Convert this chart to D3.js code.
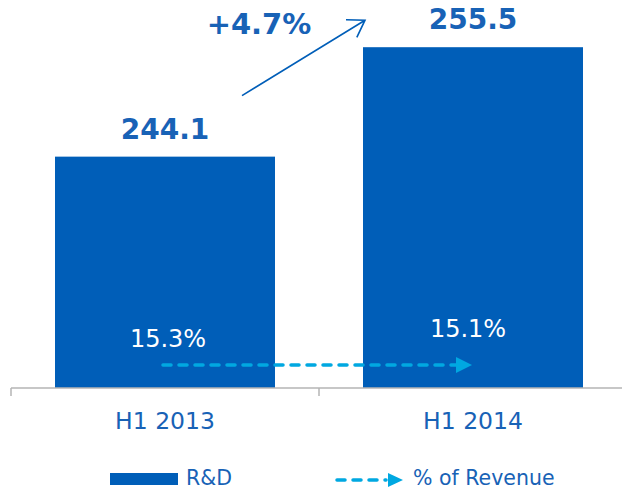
<!DOCTYPE html>
<html>
<head>
<meta charset="utf-8">
<script src="https://cdn.jsdelivr.net/npm/d3@7"></script>
<style>
  body { margin: 0; background: #fff; }
  text { font-family: "DejaVu Sans", Verdana, sans-serif; }
</style>
</head>
<body>
<svg id="chart" width="622" height="490"></svg>
<script>
'use strict';

const periods = ['H1 2013', 'H1 2014'];
const rdValues = [244.1, 255.5];
const revenueShare = ['15.3%', '15.1%'];
const growthLabel = '+4.7%';
const legendLabels = ['R&D', '% of Revenue'];

const BAR = '#005eb8';
const TEXT = '#1862b6';
const LIGHT = '#00a8e1';
const AXIS = '#b4b4b4';

const svg = d3.select('#chart');

const x = d3.scaleBand()
  .domain(periods)
  .range([11, 627])
  .paddingInner(2 / 7)
  .paddingOuter(1 / 7);

const y = d3.scaleLinear()
  .domain([220, 260])
  .range([388, 4]);

const base = y(220);
const bw = x.bandwidth();
const cx = p => x(p) + bw / 2;

// bars
svg.append('g')
  .selectAll('rect')
  .data(periods)
  .join('rect')
  .attr('x', d => x(d))
  .attr('y', (d, i) => y(rdValues[i]))
  .attr('width', bw)
  .attr('height', (d, i) => base - y(rdValues[i]))
  .attr('fill', BAR);

// value labels
svg.append('g')
  .selectAll('text')
  .data(periods)
  .join('text')
  .attr('x', d => cx(d))
  .attr('y', (d, i) => y(rdValues[i]) - 18)
  .attr('text-anchor', 'middle')
  .attr('font-size', 28)
  .attr('font-weight', 'bold')
  .attr('fill', TEXT)
  .text((d, i) => rdValues[i].toFixed(1));

// % of revenue labels inside bars
const shareOffsets = [[3, -41], [-5, -51]];
svg.append('g')
  .selectAll('text')
  .data(periods)
  .join('text')
  .attr('x', (d, i) => cx(d) + shareOffsets[i][0])
  .attr('y', (d, i) => base + shareOffsets[i][1])
  .attr('text-anchor', 'middle')
  .attr('font-size', 24)
  .attr('fill', '#fff')
  .text((d, i) => revenueShare[i]);

// axis
const step = x.step();
const axis = svg.append('g');
axis.append('line')
  .attr('x1', x.range()[0]).attr('x2', 622)
  .attr('y1', base).attr('y2', base)
  .attr('stroke', AXIS).attr('stroke-width', 1.5);
axis.selectAll('line.tick')
  .data(d3.range(periods.length + 1))
  .join('line')
  .attr('class', 'tick')
  .attr('x1', i => x.range()[0] + i * step)
  .attr('x2', i => x.range()[0] + i * step)
  .attr('y1', base).attr('y2', base + 8)
  .attr('stroke', AXIS).attr('stroke-width', 1.5);
axis.selectAll('text')
  .data(periods)
  .join('text')
  .attr('x', d => cx(d))
  .attr('y', base + 41)
  .attr('text-anchor', 'middle')
  .attr('font-size', 23.5)
  .attr('fill', TEXT)
  .text(d => d);

// dashed trend arrow
const ax0 = cx(periods[0]) - 2;
const ax1 = cx(periods[1]) - 1;
const ay = base - 23;
svg.append('line')
  .attr('x1', ax0).attr('x2', ax1 - 15)
  .attr('y1', ay).attr('y2', ay)
  .attr('stroke', LIGHT)
  .attr('stroke-width', 3.5)
  .attr('stroke-linecap', 'round')
  .attr('stroke-dasharray', '8 8');
svg.append('path')
  .attr('d', `M${ax1 - 16},${ay - 8} L${ax1},${ay} L${ax1 - 16},${ay + 8} Z`)
  .attr('fill', LIGHT);

// growth arrow
const gx0 = cx(periods[0]) + 77, gy0 = y(rdValues[0]) - 61;
const gx1 = x(periods[1]) + 2, gy1 = y(rdValues[1]) - 27;
const ang = Math.atan2(gy1 - gy0, gx1 - gx0);
const armLen = 19, spread = 33 * Math.PI / 180;
const arm = s => [gx1 - armLen * Math.cos(ang + s), gy1 - armLen * Math.sin(ang + s)];
svg.append('path')
  .attr('d', `M${gx0},${gy0} L${gx1},${gy1} M${arm(spread)} L${gx1},${gy1} L${arm(-spread)}`)
  .attr('fill', 'none')
  .attr('stroke', BAR)
  .attr('stroke-width', 1.6);
svg.append('text')
  .attr('x', 259)
  .attr('y', 34)
  .attr('text-anchor', 'middle')
  .attr('font-size', 29)
  .attr('font-weight', 'bold')
  .attr('fill', TEXT)
  .text(growthLabel);

// legend
const legend = svg.append('g');
legend.append('rect')
  .attr('x', 110).attr('y', 473)
  .attr('width', 68).attr('height', 12)
  .attr('fill', BAR);
legend.append('text')
  .attr('x', 186).attr('y', 485)
  .attr('font-size', 20.5)
  .attr('fill', TEXT)
  .text(legendLabels[0]);
legend.append('line')
  .attr('x1', 337).attr('x2', 386)
  .attr('y1', 480).attr('y2', 480)
  .attr('stroke', LIGHT)
  .attr('stroke-width', 3.5)
  .attr('stroke-linecap', 'round')
  .attr('stroke-dasharray', '8 8');
legend.append('path')
  .attr('d', 'M388,473 L403,480 L388,487 Z')
  .attr('fill', LIGHT);
legend.append('text')
  .attr('x', 413).attr('y', 485)
  .attr('font-size', 20.5)
  .attr('fill', TEXT)
  .text(legendLabels[1]);
</script>
</body>
</html>
